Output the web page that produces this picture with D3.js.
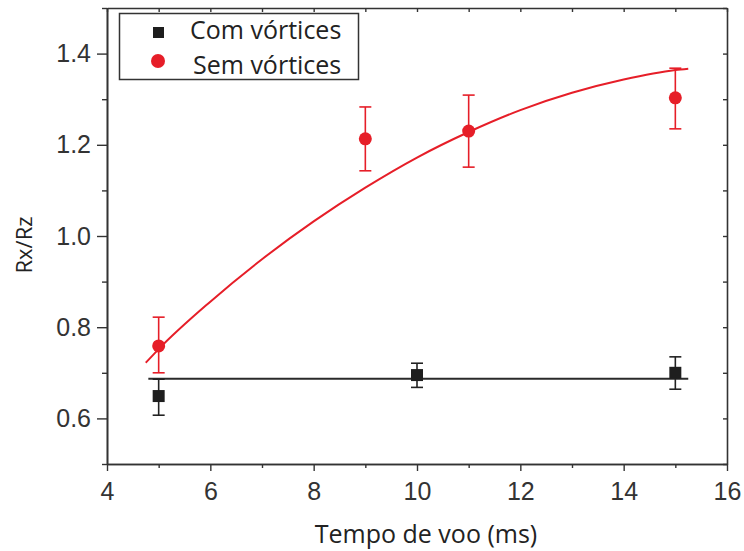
<!DOCTYPE html>
<html>
<head>
    <meta charset="utf-8">
    <script src="https://d3js.org/d3.v7.min.js"></script>
    <style>
        body { margin: 0; background: #fff; }
    </style>
</head>
<body>
    <script>
        var comX = [5, 10, 15];
        var comValues = [0.649, 0.695, 0.700];
        var comLow = [0.607, 0.668, 0.664];
        var comHigh = [0.686, 0.721, 0.735];

        var semX = [5, 9, 11, 15];
        var semValues = [0.759, 1.213, 1.230, 1.303];
        var semLow = [0.700, 1.143, 1.151, 1.235];
        var semHigh = [0.822, 1.283, 1.309, 1.368];

        // fitted lines as drawn in the figure
        var comFitX = [4.8, 15.25];
        var comFitY = [0.687, 0.687];
        var semFitX = [4.75, 5, 6, 7, 8, 9, 10, 11, 12, 13, 14, 15, 15.25];
        var semFitY = [0.722, 0.752, 0.856, 0.949, 1.032, 1.106, 1.172, 1.228, 1.276, 1.314, 1.343, 1.364, 1.367];

        var xMajor = [4, 6, 8, 10, 12, 14, 16];
        var xMinor = [5, 7, 9, 11, 13, 15];
        var yMajor = [0.6, 0.8, 1.0, 1.2, 1.4];
        var yMinor = [0.5, 0.7, 0.9, 1.1, 1.3, 1.5];

        var legendLabels = ["Com vórtices", "Sem vórtices"];

        var width = 744, height = 551;
        var margin = { top: 8, right: 17, bottom: 87, left: 107 };
        var red = "#e61e28", dark = "#222", axisColor = "#333";

        var svg = d3.select("body").append("svg")
            .attr("width", width)
            .attr("height", height);

        var x = d3.scaleLinear().domain([4, 16]).range([margin.left, width - margin.right]);
        var y = d3.scaleLinear().domain([0.5, 1.5]).range([height - margin.bottom, margin.top]);

        var tickFont = "'Liberation Sans', Arial, sans-serif";
        var labelFont = "'Open Sans', 'Noto Sans', sans-serif";

        function styleAxis(g) {
            g.select(".domain").attr("stroke", axisColor).attr("stroke-width", 1.6);
            g.selectAll(".tick line").attr("stroke", axisColor).attr("stroke-width", 1.4);
            g.selectAll(".tick text")
                .style("font-family", tickFont)
                .style("font-size", "25px")
                .attr("fill", "#333");
        }

        // bottom axis
        svg.append("g")
            .attr("transform", `translate(0,${y(0.5)})`)
            .call(d3.axisBottom(x).tickValues(xMinor).tickSize(4).tickFormat("").tickSizeOuter(0))
            .call(styleAxis);
        svg.append("g")
            .attr("transform", `translate(0,${y(0.5)})`)
            .call(d3.axisBottom(x).tickValues(xMajor).tickSize(7).tickPadding(11).tickSizeOuter(0))
            .call(styleAxis);

        // left axis
        svg.append("g")
            .attr("transform", `translate(${x(4)},0)`)
            .call(d3.axisLeft(y).tickValues(yMinor).tickSize(5).tickFormat("").tickSizeOuter(0))
            .call(styleAxis);
        svg.append("g")
            .attr("transform", `translate(${x(4)},0)`)
            .call(d3.axisLeft(y).tickValues(yMajor).tickSize(10).tickPadding(6).tickFormat(d3.format(".1f")).tickSizeOuter(0))
            .call(styleAxis);

        // top and right frame, ticks inside
        svg.append("g")
            .attr("transform", `translate(0,${y(1.5)})`)
            .call(d3.axisBottom(x).tickValues(xMajor.concat(xMinor)).tickSize(4).tickFormat("").tickSizeOuter(0))
            .call(styleAxis);
        svg.append("g")
            .attr("transform", `translate(${x(16)},0)`)
            .call(d3.axisLeft(y).tickValues(yMajor.concat(yMinor)).tickSize(4).tickFormat("").tickSizeOuter(0))
            .call(styleAxis);

        // axis titles
        svg.append("text")
            .attr("x", 426)
            .attr("y", 543)
            .attr("text-anchor", "middle")
            .style("font-family", labelFont)
            .style("font-size", "25px")
            .attr("fill", dark)
            .text("Tempo de voo (ms)");

        svg.append("text")
            .attr("transform", "translate(32,245) rotate(-90)")
            .attr("text-anchor", "middle")
            .style("font-family", labelFont)
            .style("font-size", "22px")
            .attr("fill", dark)
            .text("Rx/Rz");

        // fit lines
        var line = d3.line().x(d => x(d[0])).y(d => y(d[1])).curve(d3.curveMonotoneX);

        svg.append("path")
            .datum(comFitX.map((v, i) => [v, comFitY[i]]))
            .attr("d", line)
            .attr("fill", "none")
            .attr("stroke", "#2a2a2a")
            .attr("stroke-width", 2);

        svg.append("path")
            .datum(semFitX.map((v, i) => [v, semFitY[i]]))
            .attr("d", line)
            .attr("fill", "none")
            .attr("stroke", red)
            .attr("stroke-width", 2);

        // error bars
        function errorBars(xs, lows, highs, color) {
            var g = svg.append("g").attr("stroke", color).attr("stroke-width", 1.6);
            xs.forEach(function (xv, i) {
                var cx = x(xv);
                g.append("line").attr("x1", cx).attr("x2", cx).attr("y1", y(lows[i])).attr("y2", y(highs[i]));
                g.append("line").attr("x1", cx - 6).attr("x2", cx + 6).attr("y1", y(lows[i])).attr("y2", y(lows[i]));
                g.append("line").attr("x1", cx - 6).attr("x2", cx + 6).attr("y1", y(highs[i])).attr("y2", y(highs[i]));
            });
        }

        errorBars(comX, comLow, comHigh, "#222");
        errorBars(semX, semLow, semHigh, red);

        // markers
        svg.selectAll(".com")
            .data(comX)
            .enter().append("rect")
            .attr("class", "com")
            .attr("x", d => x(d) - 6)
            .attr("y", (d, i) => y(comValues[i]) - 6)
            .attr("width", 12)
            .attr("height", 12)
            .attr("fill", "#1e1e1e");

        svg.selectAll(".sem")
            .data(semX)
            .enter().append("circle")
            .attr("class", "sem")
            .attr("cx", d => x(d))
            .attr("cy", (d, i) => y(semValues[i]))
            .attr("r", 6.5)
            .attr("fill", red);

        // legend
        var legend = svg.append("g");
        legend.append("rect")
            .attr("x", 119.5)
            .attr("y", 13.5)
            .attr("width", 239)
            .attr("height", 66)
            .attr("fill", "#fff")
            .attr("stroke", axisColor)
            .attr("stroke-width", 1.5);

        legend.append("rect")
            .attr("x", 153)
            .attr("y", 27)
            .attr("width", 11)
            .attr("height", 11)
            .attr("fill", "#1e1e1e");
        legend.append("circle")
            .attr("cx", 158)
            .attr("cy", 61)
            .attr("r", 7)
            .attr("fill", red);

        legend.selectAll("text")
            .data(legendLabels)
            .enter().append("text")
            .attr("x", (d, i) => i === 0 ? 190 : 193)
            .attr("y", (d, i) => i === 0 ? 39 : 74)
            .style("font-family", labelFont)
            .style("font-size", "25px")
            .attr("fill", dark)
            .text(d => d);
    </script>
</body>
</html>
